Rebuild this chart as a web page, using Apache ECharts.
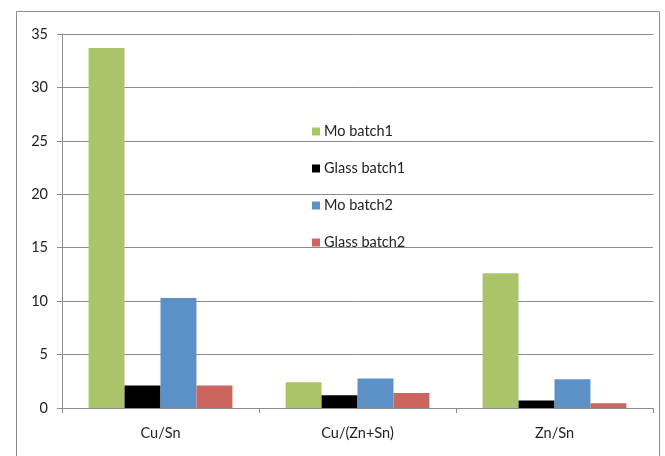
<!DOCTYPE html>
<html>
<head>
<meta charset="utf-8">
<script src="https://cdn.jsdelivr.net/npm/echarts@6/dist/echarts.min.js"></script>
<style>
  html, body { margin: 0; padding: 0; background: #fff; }
  #chart { width: 665px; height: 456px; }
</style>
</head>
<body>
<div id="chart"></div>
<script>
// Elemental ratios per substrate and batch
const categories = ['Cu/Sn', 'Cu/(Zn+Sn)', 'Zn/Sn'];
const seriesNames = ['Mo batch1', 'Glass batch1', 'Mo batch2', 'Glass batch2'];
const moBatch1 = [33.7, 2.4, 12.6];
const glassBatch1 = [2.1, 1.2, 0.7];
const moBatch2 = [10.3, 2.75, 2.7];
const glassBatch2 = [2.1, 1.4, 0.45];
const yTicks = { min: 0, max: 35, interval: 5 };

const colors = ['#abc46a', '#000000', '#5b91c7', '#cb655d'];
const values = [moBatch1, glassBatch1, moBatch2, glassBatch2];
const fontFamily = 'Lato, "Open Sans", sans-serif';

const chart = echarts.init(document.getElementById('chart'), null, { renderer: 'canvas' });
chart.setOption({
  backgroundColor: '#ffffff',
  animation: false,
  textStyle: { fontFamily: fontFamily },
  graphic: [{
    type: 'rect',
    shape: { x: 16.5, y: 11.5, width: 643, height: 470 },
    style: { fill: 'none', stroke: '#8c8c8c', lineWidth: 1 },
    silent: true,
    z: -10
  }],
  grid: { left: 62, right: 12, top: 34, bottom: 48, containLabel: false },
  legend: {
    orient: 'vertical',
    left: 307,
    top: 119,
    itemWidth: 8,
    itemHeight: 8,
    itemGap: 22,
    icon: 'rect',
    textStyle: { fontSize: 14.5, color: '#222', fontFamily: fontFamily, padding: [0, 0, 0, -1] },
    data: seriesNames
  },
  xAxis: {
    type: 'category',
    data: categories,
    axisLine: { lineStyle: { color: '#8c8c8c', width: 1 } },
    axisTick: { show: true, length: 5, alignWithLabel: false, lineStyle: { color: '#8c8c8c' } },
    axisLabel: { color: '#222', fontSize: 14.5, margin: 18, fontFamily: fontFamily },
    splitLine: { show: false }
  },
  yAxis: {
    type: 'value',
    min: yTicks.min,
    max: yTicks.max,
    interval: yTicks.interval,
    axisLine: { show: true, lineStyle: { color: '#8c8c8c', width: 1 } },
    axisTick: { show: true, length: 5, lineStyle: { color: '#8c8c8c' } },
    axisLabel: { color: '#222', fontSize: 14.5, margin: 14, fontFamily: fontFamily },
    splitLine: { show: true, lineStyle: { color: '#8c8c8c', width: 1 } }
  },
  series: seriesNames.map((name, i) => ({
    name: name,
    type: 'bar',
    data: values[i],
    barGap: '0%',
    barCategoryGap: '27%',
    itemStyle: { color: colors[i] }
  }))
});
</script>
</body>
</html>
